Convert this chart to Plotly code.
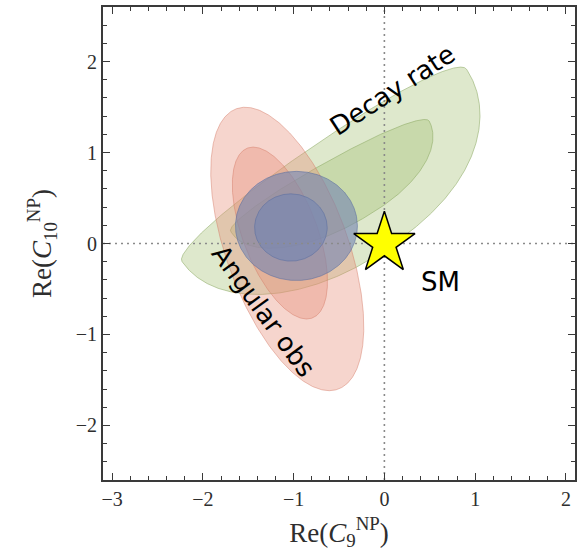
import numpy as np
import plotly.graph_objects as go

# ---- data ----
region_names = ["Decay rate 2σ", "Decay rate 1σ", "Angular obs 2σ",
                "Angular obs 1σ", "Combined 2σ", "Combined 1σ"]
center_x = [-0.663, -0.600, -1.070, -1.151, -0.969, -1.030]
center_y = [0.860, 0.740, -0.060, 0.115, 0.193, 0.176]
semi_major = [1.89, 1.25, 1.64, 1.00, 0.672, 0.40]
semi_minor_left = [0.24, 0.154, 0.67, 0.41, 0.60, 0.37]
semi_minor_right = [1.145, 0.584, 0.67, 0.41, 0.60, 0.37]
tilt_deg = [34, 29, 110, 111, 0, 0]
end_roundness = [0.82, 0.85, 1.0, 1.0, 1.0, 1.0]

sm_x = [0.0]
sm_y = [0.0]

x_ticks = [-3, -2, -1, 0, 1, 2]
y_ticks = [-2, -1, 0, 1, 2]
x_range = [-3.1, 2.1]
y_range = [-2.6, 2.6]

labels = ["Decay rate", "Angular obs", "SM"]
label_x = [0.09, -1.33, 0.62]
label_y = [1.69, -0.74, -0.42]
label_angle = [-33, 54, 0]

# ---- styles ----
fills = ["rgba(160,190,110,0.35)", "rgba(160,190,110,0.35)",
         "rgba(230,140,120,0.37)", "rgba(230,140,120,0.37)",
         "rgba(118,134,178,0.62)", "rgba(118,134,178,0.62)"]
edges = ["rgba(140,170,100,0.55)", "rgba(140,170,100,0.55)",
         "rgba(210,120,100,0.45)", "rgba(210,120,100,0.45)",
         "rgba(90,110,160,0.55)", "rgba(90,110,160,0.55)"]


def outline(cx, cy, a, bl, br, tilt, p):
    t = np.linspace(0, 2 * np.pi, 721)
    th = np.radians(tilt)
    s = np.sin(t)
    c = np.cos(t)
    b = np.where(s >= 0, bl, br)
    # blunter upper end when p < 1
    cu = np.where(c > 0, np.sign(c) * np.abs(c) ** p, c)
    u = a * cu
    v = b * s
    x = cx + u * np.cos(th) - v * np.sin(th)
    y = cy + u * np.sin(th) + v * np.cos(th)
    return x, y


fig = go.Figure()
for i, name in enumerate(region_names):
    x, y = outline(center_x[i], center_y[i], semi_major[i],
                   semi_minor_left[i], semi_minor_right[i], tilt_deg[i],
                   end_roundness[i])
    fig.add_trace(go.Scatter(x=x, y=y, mode="lines", fill="toself",
                             fillcolor=fills[i],
                             line=dict(color=edges[i], width=1),
                             name=name, hoverinfo="skip", showlegend=False))

# dotted reference lines through the SM point
fig.add_trace(go.Scatter(x=[sm_x[0], sm_x[0]], y=y_range, mode="lines",
                         line=dict(color="#8a8a8a", width=1.6, dash="2px,4px"),
                         showlegend=False, hoverinfo="skip"))
fig.add_trace(go.Scatter(x=x_range, y=[sm_y[0], sm_y[0]], mode="lines",
                         line=dict(color="#8a8a8a", width=1.6, dash="2px,4px"),
                         showlegend=False, hoverinfo="skip"))

fig.add_trace(go.Scatter(x=sm_x, y=sm_y, mode="markers",
                         marker=dict(symbol="star", size=46, color="#ffff00",
                                     line=dict(color="black", width=1.5)),
                         showlegend=False, hoverinfo="skip"))

# invisible trace to carry the mirrored (top/right) tick axes
fig.add_trace(go.Scatter(x=sm_x, y=sm_y, xaxis="x2", yaxis="y2", mode="markers",
                         marker=dict(opacity=0), showlegend=False,
                         hoverinfo="skip"))

for txt, lx, ly, ang in zip(labels, label_x, label_y, label_angle):
    fig.add_annotation(x=lx, y=ly, text=txt, textangle=ang, showarrow=False,
                       font=dict(family="DejaVu Sans", size=26, color="black"))

axis_common = dict(
    showgrid=False, zeroline=False, showline=True, linecolor="#3a3a3a",
    linewidth=1.8, mirror=False, ticks="inside", ticklen=7, tickwidth=1.4,
    tickcolor="#3a3a3a",
    tickfont=dict(family="Liberation Serif", size=20, color="#2e2e2e"),
    minor=dict(ticks="inside", ticklen=4, tickwidth=1.1, tickcolor="#3a3a3a",
               dtick=0.2, showgrid=False),
)
title_font = dict(family="Liberation Serif", size=27, color="#2e2e2e")

fig.update_layout(
    width=580, height=560,
    margin=dict(l=103, r=5, t=7, b=80),
    paper_bgcolor="white", plot_bgcolor="white",
    xaxis=dict(range=x_range, tickvals=x_ticks,
               title=dict(text="Re(<i>C</i><sub>9</sub><sup>NP</sup>)",
                          font=title_font, standoff=14),
               **axis_common),
    yaxis=dict(range=y_range, tickvals=y_ticks,
               title=dict(text="Re(<i>C</i><sub>10</sub><sup>NP</sup>)",
                          font=title_font, standoff=16),
               **axis_common),
    xaxis2=dict(range=x_range, tickvals=x_ticks, overlaying="x", side="top",
                anchor="y", showticklabels=False, **axis_common),
    yaxis2=dict(range=y_range, tickvals=y_ticks, overlaying="y", side="right",
                anchor="x", showticklabels=False, **axis_common),
)

fig.write_html("out.html")
